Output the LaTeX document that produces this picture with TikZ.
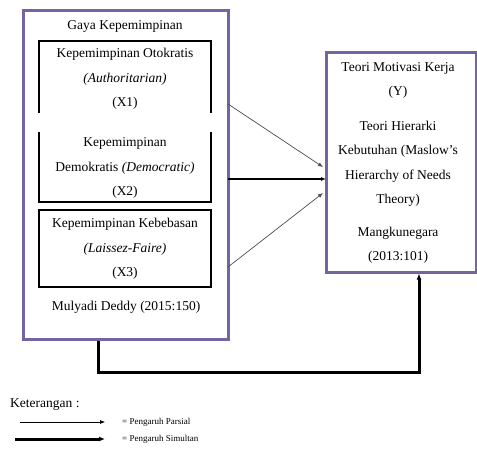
\documentclass[tikz,border=0pt]{standalone}
\usepackage{fontspec}
\setmainfont{Liberation Serif}
\usepackage{xcolor}
\usetikzlibrary{arrows.meta}
\definecolor{boxpurple}{RGB}{118,100,160}

\begin{document}
\begin{tikzpicture}[x=1pt, y=-1pt,
    outerbox/.style={draw=boxpurple, line width=3pt, minimum width=#1, inner sep=0pt},
    txt/.style={align=center, inner sep=0pt, font=\fontsize{13.5}{24.5}\selectfont},
    smalltxt/.style={anchor=west, inner sep=0pt, font=\fontsize{9}{11}\selectfont},
    parsial/.style={-{Latex[length=5pt,width=4pt]}, line width=0.7pt, gray!60!black},
    simultan/.style={-{Latex[length=6pt,width=5pt]}, line width=3pt}]
    \useasboundingbox (0,0) rectangle (477,458);
    % Gaya kepemimpinan (X) dan motivasi kerja (Y)
    \node[outerbox=205pt, minimum height=329pt] (outer) at (125.5,174.5) {};
    \node[outerbox=150pt, minimum height=220pt] (ybox) at (401,162) {};

    \draw[line width=1.5pt] (39,113) -- (39,41) -- (211,41) -- (211,113);
    \draw[line width=1.5pt] (39,132) -- (39,202) -- (211,202) -- (211,132);
    \draw[line width=1.5pt] (39,210) rectangle (211,287);

    \node[txt] (title) at (125,26) {Gaya Kepemimpinan};
    \node[txt] (x1) at (125,79) {Kepemimpinan Otokratis\\ \textit{(Authoritarian)}\\ (X1)};
    \node[txt] (x2) at (125,168) {Kepemimpinan\\ Demokratis \textit{(Democratic)}\\ (X2)};
    \node[txt] (x3) at (125,249) {Kepemimpinan Kebebasan\\ \textit{(Laissez-Faire)}\\ (X3)};
    \node[txt] (xsrc) at (126,307) {Mulyadi Deddy (2015:150)};

    \node[txt] (y) at (398,80.5) {Teori Motivasi Kerja\\ (Y)};
    \node[txt] (yteori) at (398,164) {Teori Hierarki\\ Kebutuhan (Maslow's\\ Hierarchy of Needs\\ Theory)};
    \node[txt] (ysrc) at (398,245) {Mangkunegara\\ (2013:101)};

    % titik ujung panah
    \coordinate (s1) at (228,104);
    \coordinate (s2) at (228,179);
    \coordinate (s3) at (228,267);
    \coordinate (e1) at (323,167);
    \coordinate (e2) at (326,179);
    \coordinate (e3) at (323,193);
    \draw[parsial] (s1) -- (e1);
    \draw[-{Latex[length=5pt,width=4pt]}, line width=1.2pt] (s2) -- (e2);
    \draw[parsial] (s3) -- (e3);

    \coordinate (kb) at (98,372);
    \coordinate (ke) at (419,372);
    \draw[simultan] (kb |- outer.south) -- (kb) -- (ke) -- (ke |- ybox.south);

    % keterangan
    \node[txt, anchor=west] (ket) at (10,405) {Keterangan :};
    \coordinate (la) at (20,422);
    \coordinate (lb) at (105,422);
    \coordinate (lc) at (15,439);
    \coordinate (ld) at (105,439);
    \draw[parsial, black, line width=0.6pt] (la) -- (lb);
    \draw[simultan] (lc) -- (ld);
    \node[smalltxt] (lparsial) at (122,422) {= Pengaruh Parsial};
    \node[smalltxt] (lsimultan) at (122,439) {= Pengaruh Simultan};
\end{tikzpicture}
\end{document}
